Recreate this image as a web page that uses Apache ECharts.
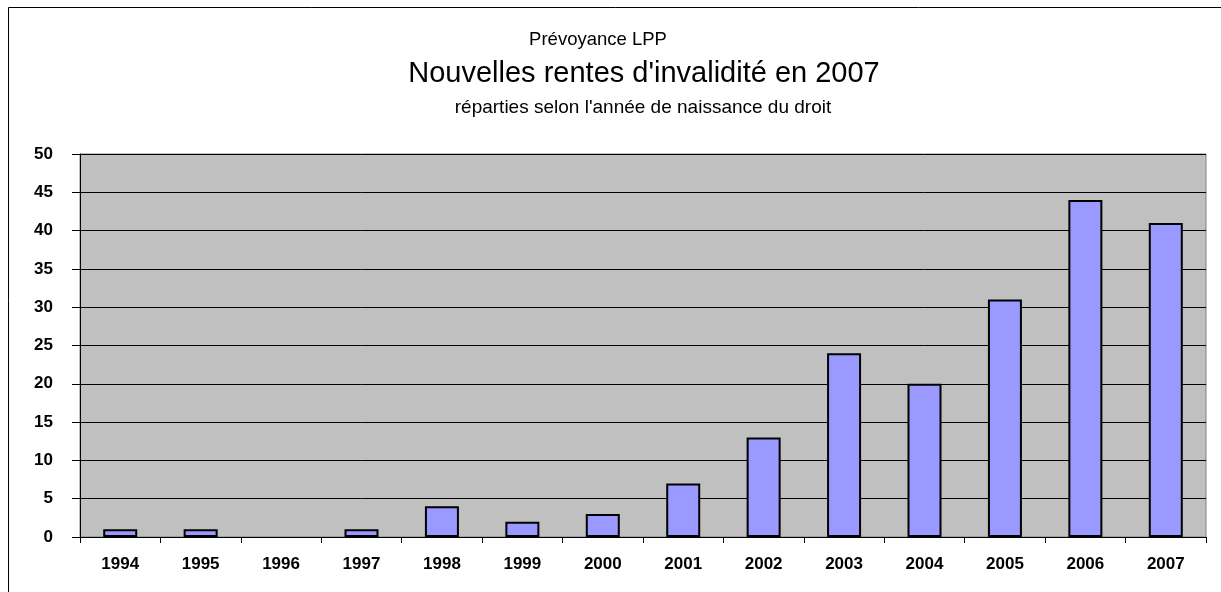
<!DOCTYPE html>
<html><head><meta charset="utf-8">
<script src="https://cdn.jsdelivr.net/npm/echarts@6/dist/echarts.min.js"></script>
<style>html,body{margin:0;padding:0;background:#fff}#c{width:1221px;height:592px}</style>
</head><body><div id="c"></div>
<script>
const categories = ['1994','1995','1996','1997','1998','1999','2000','2001','2002','2003','2004','2005','2006','2007'];
const values = [1,1,0,1,4,2,3,7,13,24,20,31,44,41];
const yTicks = [0,5,10,15,20,25,30,35,40,45,50];
const titleTop = 'Prévoyance LPP';
const titleMain = "Nouvelles rentes d'invalidité en 2007";
const titleSub = "réparties selon l'année de naissance du droit";

const chart = echarts.init(document.getElementById('c'), null, {renderer:'canvas'});
const F = '"Liberation Sans", Arial, sans-serif';
chart.setOption({
  animation:false,
  backgroundColor:'#fff',
  graphic:[
    {type:'rect', shape:{x:8.5,y:7.5,width:1230,height:600}, style:{fill:'none',stroke:'#000',lineWidth:1}, z:0},
    {type:'text', x:598, y:40, style:{text:titleTop, font:'18.5px '+F, fill:'#000', align:'center', verticalAlign:'middle'}},
    {type:'text', x:644, y:74, style:{text:titleMain, font:'29px '+F, fill:'#000', align:'center', verticalAlign:'middle'}},
    {type:'text', x:643, y:108, style:{text:titleSub, font:'19px '+F, fill:'#000', align:'center', verticalAlign:'middle'}}
  ],
  grid:{left:80, right:15, top:154, bottom:55, show:true, backgroundColor:'#C0C0C0', borderColor:'#808080', borderWidth:1},
  xAxis:{type:'category', data:categories,
    axisLine:{lineStyle:{color:'#000',width:1}},
    axisTick:{show:true, length:6, lineStyle:{color:'#000'}},
    axisLabel:{fontFamily:F, fontWeight:'bold', fontSize:17, color:'#000', margin:19}},
  yAxis:{type:'value', min:0, max:50, interval:5,
    axisLine:{show:true, lineStyle:{color:'#000'}},
    axisTick:{show:true, length:8, lineStyle:{color:'#000'}},
    axisLabel:{fontFamily:F, fontWeight:'bold', fontSize:17, color:'#000', margin:27,
      formatter:v=>yTicks.includes(v)?String(v):''},
    splitLine:{show:true, lineStyle:{color:'#000', width:1}}},
  series:[{type:'bar', barWidth:34,
    data:values.map(v=>v===0?{value:v,itemStyle:{borderWidth:0}}:v),
    itemStyle:{color:'#9999FF', borderColor:'#000', borderWidth:2}}]
});
</script></body></html>
